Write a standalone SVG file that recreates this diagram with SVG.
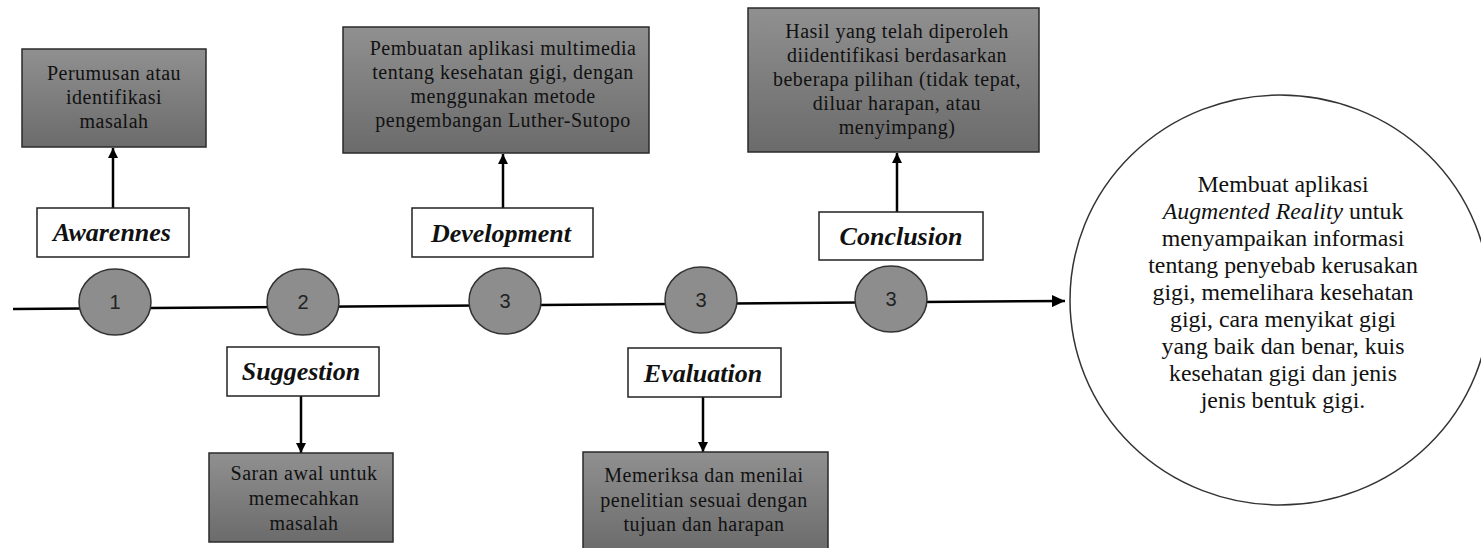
<svg xmlns="http://www.w3.org/2000/svg" width="1481" height="548" viewBox="0 0 1481 548">
<defs>
<linearGradient id="boxg" x1="0" y1="0" x2="0" y2="1">
<stop offset="0" stop-color="#909090"/>
<stop offset="1" stop-color="#6b6b6b"/>
</linearGradient>
<marker id="ah" viewBox="0 0 10 10" refX="10" refY="5" markerWidth="10" markerHeight="10" orient="auto" markerUnits="userSpaceOnUse"><path d="M0,0 L10,5 L0,10 z" fill="#000"/></marker>
<marker id="ahL" viewBox="0 0 13 12" refX="13" refY="6" markerWidth="13" markerHeight="12" orient="auto" markerUnits="userSpaceOnUse"><path d="M0,0 L13,6 L0,12 z" fill="#000"/></marker>
</defs>
<style>
.box{fill:url(#boxg);stroke:#2a2a2a;stroke-width:1.5}
.lbl{fill:#fff;stroke:#222;stroke-width:1.5}
.step{fill:#8d8d8d;stroke:#333;stroke-width:1.5}
.num{font-family:"Liberation Sans",Arial,sans-serif;font-size:20px;fill:#222;text-anchor:middle}
.bt{font-family:"Liberation Serif","Times New Roman",serif;font-size:20px;letter-spacing:0.5px;fill:#111;text-anchor:middle}
.lt{font-family:"Liberation Serif","Times New Roman",serif;font-size:26px;font-weight:bold;font-style:italic;fill:#111;text-anchor:middle}
.ct{font-family:"Liberation Serif","Times New Roman",serif;font-size:23.8px;fill:#111;text-anchor:middle}
.conn{stroke:#000;stroke-width:2.5;fill:none}
</style>

<g id="connectors">
<line class="conn" x1="13" y1="309" x2="1065" y2="301" marker-end="url(#ahL)"/>
<line class="conn" x1="113" y1="208" x2="113" y2="148" marker-end="url(#ah)"/>
<line class="conn" x1="301" y1="396" x2="301" y2="453" marker-end="url(#ah)"/>
<line class="conn" x1="503" y1="208" x2="503" y2="154" marker-end="url(#ah)"/>
<line class="conn" x1="703" y1="397" x2="703" y2="452" marker-end="url(#ah)"/>
<line class="conn" x1="897" y1="212" x2="897" y2="153" marker-end="url(#ah)"/>
</g>

<g id="step1"><ellipse class="step" cx="115" cy="302" rx="36" ry="33"/><text class="num" x="115" y="309">1</text></g>
<g id="step2"><ellipse class="step" cx="303" cy="302" rx="36" ry="33"/><text class="num" x="303" y="309">2</text></g>
<g id="step3a"><ellipse class="step" cx="505" cy="301" rx="36" ry="33"/><text class="num" x="505" y="308">3</text></g>
<g id="step3b"><ellipse class="step" cx="701" cy="300" rx="36" ry="33"/><text class="num" x="701" y="307">3</text></g>
<g id="step3c"><ellipse class="step" cx="891" cy="299" rx="36" ry="33"/><text class="num" x="891" y="306">3</text></g>

<g id="awarennes"><rect class="lbl" x="37" y="208" width="152" height="49"/><text class="lt" x="112" y="241">Awarennes</text></g>
<g id="perumusan"><rect class="box" x="22" y="49" width="184" height="98"/>
<text class="bt" x="114" y="80">Perumusan atau</text>
<text class="bt" x="114" y="104">identifikasi</text>
<text class="bt" x="114" y="128">masalah</text></g>

<g id="suggestion"><rect class="lbl" x="227" y="347" width="152" height="49"/><text class="lt" x="301" y="380">Suggestion</text></g>
<g id="saran"><rect class="box" x="209" y="453" width="184" height="89"/>
<text class="bt" x="304" y="480">Saran awal untuk</text>
<text class="bt" x="304" y="505">memecahkan</text>
<text class="bt" x="304" y="530">masalah</text></g>

<g id="development"><rect class="lbl" x="412" y="208" width="181" height="49"/><text class="lt" x="501" y="242">Development</text></g>
<g id="pembuatan"><rect class="box" x="343" y="27" width="306" height="126"/>
<text class="bt" x="503" y="55">Pembuatan aplikasi multimedia</text>
<text class="bt" x="503" y="79">tentang kesehatan gigi, dengan</text>
<text class="bt" x="503" y="103">menggunakan metode</text>
<text class="bt" x="503" y="127">pengembangan Luther-Sutopo</text></g>

<g id="evaluation"><rect class="lbl" x="628" y="348" width="153" height="49"/><text class="lt" x="703" y="382">Evaluation</text></g>
<g id="memeriksa"><rect class="box" x="583" y="452" width="245" height="100"/>
<text class="bt" x="704" y="482">Memeriksa dan menilai</text>
<text class="bt" x="704" y="507">penelitian sesuai dengan</text>
<text class="bt" x="704" y="531">tujuan dan harapan</text></g>

<g id="conclusion"><rect class="lbl" x="819" y="212" width="164" height="48"/><text class="lt" x="901" y="245">Conclusion</text></g>
<g id="hasil"><rect class="box" x="748" y="8" width="291" height="144"/>
<text class="bt" x="897" y="38">Hasil yang telah diperoleh</text>
<text class="bt" x="897" y="62">diidentifikasi berdasarkan</text>
<text class="bt" x="897" y="86">beberapa pilihan (tidak tepat,</text>
<text class="bt" x="897" y="110">diluar harapan, atau</text>
<text class="bt" x="897" y="134">menyimpang)</text></g>

<g id="result"><ellipse cx="1280" cy="300" rx="210" ry="205" fill="#fff" stroke="#333" stroke-width="1.5"/>
<text class="ct" x="1283" y="192">Membuat aplikasi</text>
<text class="ct" x="1283" y="219"><tspan font-style="italic">Augmented Reality</tspan> untuk</text>
<text class="ct" x="1283" y="246">menyampaikan informasi</text>
<text class="ct" x="1283" y="273">tentang penyebab kerusakan</text>
<text class="ct" x="1283" y="300">gigi, memelihara kesehatan</text>
<text class="ct" x="1283" y="327">gigi, cara menyikat gigi</text>
<text class="ct" x="1283" y="354">yang baik dan benar, kuis</text>
<text class="ct" x="1283" y="381">kesehatan gigi dan jenis</text>
<text class="ct" x="1283" y="408">jenis bentuk gigi.</text></g>
</svg>
